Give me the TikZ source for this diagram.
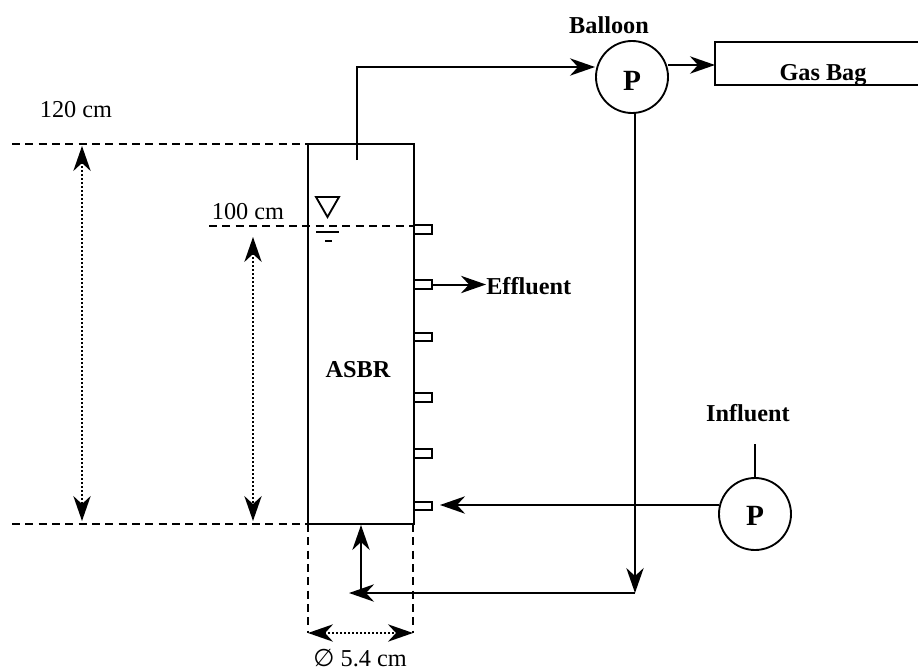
\documentclass[tikz,border=0pt]{standalone}
\usepackage{fontspec}
\setmainfont{Liberation Serif}
\newfontfamily\symfont{DejaVu Sans}
\usetikzlibrary{arrows.meta}
\newcommand{\bodyfont}{\fontsize{18.2}{20}\selectfont}
\tikzset{
  x=0.75pt,y=-0.75pt,
  tipa/.tip={Stealth[length=18.75pt,width=13pt,inset=6pt]},
  pipe/.style={line width=1.5pt,line join=miter},
  flow/.style={pipe,-tipa},
  dim/.style={line width=1.3pt,dash pattern=on 1.5pt off 1.5pt,tipa-tipa},
  guide/.style={line width=1.2pt,dash pattern=on 6pt off 4pt},
  vessel/.style={draw,line width=1.6pt,minimum width=79.5pt,minimum height=285pt,inner sep=0pt,outer sep=0pt},
  port/.style={draw,line width=1.4pt,minimum width=13.5pt,minimum height=6.5pt,inner sep=0pt,outer sep=0pt},
  pump/.style={draw,circle,line width=1.4pt,minimum size=54pt,inner sep=0pt,outer sep=0pt},
  pumpl/.style={inner sep=0pt,font=\fontsize{22}{24}\selectfont\bfseries},
  lab/.style={inner sep=0pt,font=\bodyfont},
  blab/.style={inner sep=0pt,font=\bodyfont\bfseries}
}
\begin{document}
\begin{tikzpicture}
\useasboundingbox (0,0) rectangle (918,671);
% main shapes
\node[vessel] (asbr) at (361,334) {};
\node[blab] (asbrl) at (358,370) {ASBR};
\node[port,anchor=west] (p1) at (414,229.5) {};
\node[port,anchor=west] (p2) at (414,284.5) {};
\node[port,anchor=west] (p3) at (414,337) {};
\node[port,anchor=west] (p4) at (414,397.5) {};
\node[port,anchor=west] (p5) at (414,453.5) {};
\node[port,anchor=west] (p6) at (414,506) {};
\node[pump] (pa) at (632,77) {};
\node[pumpl] (pal) at (632,81) {P};
\node[pump] (pb) at (755,514) {};
\node[pumpl] (pbl) at (755,516) {P};
\node[blab] (balloon) at (609,25) {Balloon};
\node[blab] (gas) at (823,75) {Gas Bag};
\node[blab] (infl) at (748,413) {Influent};
\node[blab,anchor=west] (effl) at (486,286) {Effluent};
\node[lab] (l120) at (76,110) {120 cm};
\node[lab] (l100) at (248,212) {100 cm};
\node[lab,anchor=base east] (ldia) at (407,666) {{\symfont ∅} 5.4 cm};
% coordinates
\coordinate (inA) at (357,160);
\coordinate (inB) at (357,67);
\coordinate (inC) at (595,67);
\coordinate (gasA) at (668,65);
\coordinate (gasB) at (715,65);
\coordinate (dn) at (635,113);
\coordinate (dnE) at (635,593);
\coordinate (lft) at (349,593);
\coordinate (upS) at (361,593);
\coordinate (upE) at (361,525);
\coordinate (infA) at (719,505);
\coordinate (infB) at (440,505);
\coordinate (infT) at (755,444);
\coordinate (efB) at (486,284.5);
% gas bag (open on the right)
\draw[line width=1.6pt] (918,42) -- (715,42) -- (715,85) -- (918,85);
% pipes
\draw[flow] (inA) -- (inB) -- (inC);
\draw[flow] (gasA) -- (gasB);
\draw[flow] (dn) -- (dnE);
\draw[flow] (dnE) -- (lft);
\draw[flow] (upS) -- (upE);
\draw[flow] (infA) -- (infB);
\draw[pipe] (pb.north) -- (infT);
\draw[flow] (p2.east) -- (efB);
% guides
\coordinate (g1a) at (12,144);
\coordinate (g2a) at (209,226);
\coordinate (g2b) at (414,226);
\coordinate (g3a) at (12,524);
\coordinate (g4a) at (308,524);
\coordinate (g4b) at (308,633);
\coordinate (g5a) at (413,524);
\coordinate (g5b) at (413,633);
\draw[guide] (g1a) -- (g1a -| asbr.west);
\draw[guide] (g2a) -- (g2b);
\draw[guide] (g3a) -- (g3a -| asbr.west);
\draw[guide] (g4a) -- (g4b);
\draw[guide] (g5a) -- (g5b);
% dimensions
\coordinate (d1a) at (82,146);
\coordinate (d1b) at (82,521);
\coordinate (d2a) at (253,237);
\coordinate (d2b) at (253,521);
\draw[dim] (d1a) -- (d1b);
\draw[dim] (d2a) -- (d2b);
\draw[dim] (g4b) -- (g5b);
% water level symbol
\draw[line width=1.4pt] (316,197) -- (339,197) -- (327.5,217) -- cycle;
\draw[line width=1.4pt] (316,232) -- (339,232);
\draw[line width=1.4pt] (325,241) -- (332,241);
\end{tikzpicture}
\end{document}
